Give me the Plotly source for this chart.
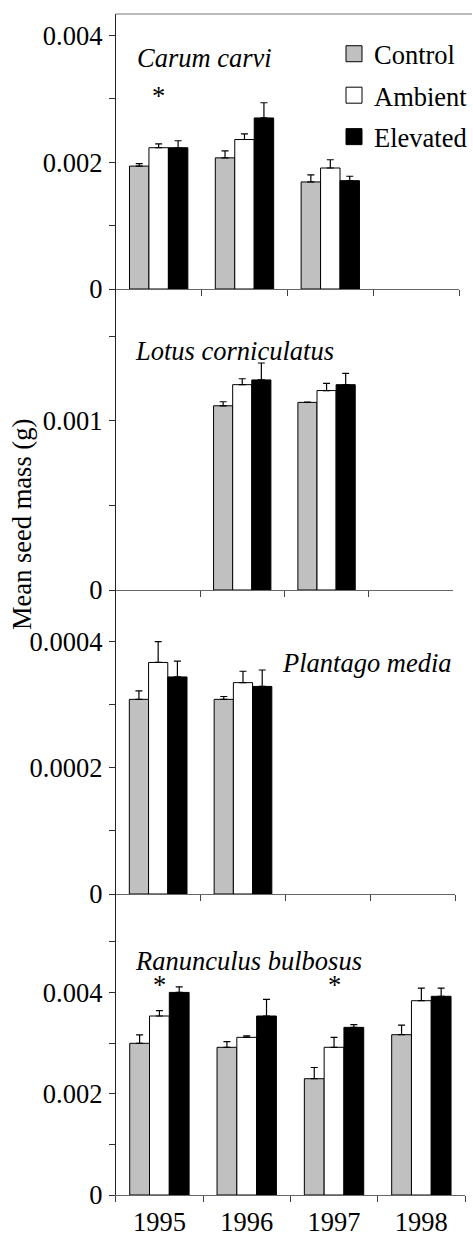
import plotly.graph_objects as go

# ---------------- data ----------------
years = ["1995", "1996", "1997", "1998"]
treatments = ["Control", "Ambient", "Elevated"]
treatment_colors = ["#c0c0c0", "#ffffff", "#000000"]

carum_control = [0.00194, 0.00207, 0.00169, None]
carum_control_se = [0.00004, 0.00011, 0.00011, None]
carum_ambient = [0.00223, 0.00236, 0.00191, None]
carum_ambient_se = [0.00006, 0.00009, 0.00013, None]
carum_elevated = [0.00223, 0.00270, 0.00171, None]
carum_elevated_se = [0.00011, 0.00024, 0.00007, None]

lotus_control = [None, 0.00109, 0.00111, None]
lotus_control_se = [None, 0.000024, 0.000002, None]
lotus_ambient = [None, 0.001215, 0.00118, None]
lotus_ambient_se = [None, 0.000035, 0.000043, None]
lotus_elevated = [None, 0.001243, 0.001215, None]
lotus_elevated_se = [None, 0.0001, 0.000067, None]

plantago_control = [0.0003085, 0.0003085, None, None]
plantago_control_se = [0.0000135, 0.0000045, None, None]
plantago_ambient = [0.000367, 0.000335, None, None]
plantago_ambient_se = [0.000033, 0.000018, None, None]
plantago_elevated = [0.000344, 0.000329, None, None]
plantago_elevated_se = [0.000025, 0.000026, None, None]

ranunculus_control = [0.002995, 0.002916, 0.002296, 0.003165]
ranunculus_control_se = [0.000165, 0.000111, 0.000221, 0.000191]
ranunculus_ambient = [0.003534, 0.003113, 0.002916, 0.003836]
ranunculus_ambient_se = [0.000106, 0.000027, 0.000197, 0.000247]
ranunculus_elevated = [0.004, 0.003534, 0.00331, 0.003923]
ranunculus_elevated_se = [0.00011, 0.00033, 0.000052, 0.00016]

species_names = ["Carum carvi", "Lotus corniculatus", "Plantago media", "Ranunculus bulbosus"]

panel_means = [
    [carum_control, carum_ambient, carum_elevated],
    [lotus_control, lotus_ambient, lotus_elevated],
    [plantago_control, plantago_ambient, plantago_elevated],
    [ranunculus_control, ranunculus_ambient, ranunculus_elevated],
]
panel_se = [
    [carum_control_se, carum_ambient_se, carum_elevated_se],
    [lotus_control_se, lotus_ambient_se, lotus_elevated_se],
    [plantago_control_se, plantago_ambient_se, plantago_elevated_se],
    [ranunculus_control_se, ranunculus_ambient_se, ranunculus_elevated_se],
]

# y tick labels per panel
carum_tickvals = [0, 0.002, 0.004]
carum_ticktext = ["0", "0.002", "0.004"]
lotus_tickvals = [0, 0.001]
lotus_ticktext = ["0", "0.001"]
plantago_tickvals = [0, 0.0002, 0.0004]
plantago_ticktext = ["0", "0.0002", "0.0004"]
ranunculus_tickvals = [0, 0.002, 0.004]
ranunculus_ticktext = ["0", "0.002", "0.004"]

panel_tickvals = [carum_tickvals, lotus_tickvals, plantago_tickvals, ranunculus_tickvals]
panel_ticktext = [carum_ticktext, lotus_ticktext, plantago_ticktext, ranunculus_ticktext]
panel_minor_dtick = [0.001, 0.0005, 0.0001, 0.001]
panel_ymax = [0.004341, 0.001781, 0.0004818, 0.005943]

# significance markers: (panel index, year, y value)
sig_panel = [0, 3, 3]
sig_year = ["1995", "1995", "1997"]
sig_y = [0.0031, 0.00421, 0.00421]

# ---------------- layout geometry ----------------
W, H = 473, 1235
FONT = "Liberation Serif"
FS = 26.5
left_px = 116
right_px = [460, 454, 456, 466]
panel_px = [(14, 289), (289, 590), (590, 894), (894, 1195)]

fig = go.Figure()

for p in range(4):
    xa = "x" if p == 0 else f"x{p+1}"
    ya = "y" if p == 0 else f"y{p+1}"
    for t in range(3):
        fig.add_trace(go.Bar(
            x=years,
            y=panel_means[p][t],
            name=treatments[t],
            marker=dict(color=treatment_colors[t], line=dict(color="#000000", width=1)),
            error_y=dict(type="data", symmetric=False, array=panel_se[p][t],
                         arrayminus=[0 if v is not None else None for v in panel_se[p][t]],
                         color="#000000", thickness=1.2, width=3.5),
            xaxis=xa, yaxis=ya, showlegend=False,
        ))

# legend entries
for t in range(3):
    fig.add_trace(go.Scatter(
        x=[None], y=[None], mode="markers", name=treatments[t],
        legendgroup=treatments[t],
        marker=dict(symbol="square", size=16, color=treatment_colors[t],
                    line=dict(color="#000000", width=1)),
        xaxis="x", yaxis="y", showlegend=True,
    ))

layout = dict(
    width=W, height=H,
    margin=dict(l=0, r=0, t=0, b=0),
    template="none",
    plot_bgcolor="white", paper_bgcolor="white",
    font=dict(family=FONT, size=FS, color="#000000"),
    barmode="group", bargap=0.32, bargroupgap=0,
    showlegend=True,
    legend=dict(x=(355 - 20) / W, y=1 - 30 / H, xanchor="left", yanchor="top",
                bgcolor="rgba(0,0,0,0)", borderwidth=0,
                font=dict(family=FONT, size=FS, color="#000000"),
                tracegroupgap=4),
)

for p in range(4):
    xk = "xaxis" if p == 0 else f"xaxis{p+1}"
    yk = "yaxis" if p == 0 else f"yaxis{p+1}"
    top, bot = panel_px[p]
    layout[xk] = dict(
        domain=[left_px / W, right_px[p] / W],
        anchor="y" if p == 0 else f"y{p+1}",
        type="category", categoryorder="array", categoryarray=years,
        range=[-0.5, 3.5],
        showline=True, linecolor="#666666", linewidth=1,
        ticks="outside", tickson="boundaries", ticklen=6, tickcolor="#444444", tickwidth=1,
        showgrid=False, zeroline=False,
        showticklabels=(p == 3), ticklabelstandoff=3,
        tickfont=dict(family=FONT, size=FS, color="#000000"),
        automargin=False, fixedrange=True,
    )
    layout[yk] = dict(
        domain=[1 - bot / H, 1 - top / H],
        anchor="x" if p == 0 else f"x{p+1}",
        range=[0, panel_ymax[p]],
        tickmode="array", tickvals=panel_tickvals[p], ticktext=panel_ticktext[p],
        showline=True, linecolor="#222222", linewidth=1,
        ticks="outside", ticklen=6, tickcolor="#333333", tickwidth=1,
        minor=dict(dtick=panel_minor_dtick[p], tick0=0, ticks="outside", ticklen=6,
                   tickcolor="#333333", tickwidth=1),
        showgrid=False, zeroline=False,
        tickfont=dict(family=FONT, size=FS, color="#000000"),
        ticklabelstandoff=1,
        automargin=False, fixedrange=True,
    )

fig.update_layout(**layout)

# top border line of first panel
fig.add_shape(type="line", xref="paper", yref="paper",
              x0=left_px / W, x1=1, y0=1 - 14 / H, y1=1 - 14 / H,
              line=dict(color="#777777", width=1))

# species labels
label_x = [135, 133, 455, 133]
label_y = [58, 351, 663, 961]
label_anchor = ["left", "left", "right", "left"]
for p in range(4):
    fig.add_annotation(text=f"<i>{species_names[p]}</i>", xref="paper", yref="paper",
                       x=label_x[p] / W, y=1 - label_y[p] / H,
                       xanchor=label_anchor[p], yanchor="middle", showarrow=False,
                       font=dict(family=FONT, size=FS, color="#000000"))

# significance asterisks
for i in range(len(sig_panel)):
    p = sig_panel[i]
    fig.add_annotation(text="*", xref="x" if p == 0 else f"x{p+1}",
                       yref="y" if p == 0 else f"y{p+1}",
                       x=years.index(sig_year[i]), y=sig_y[i],
                       xanchor="center", yanchor="middle",
                       yshift=-3, showarrow=False,
                       font=dict(family=FONT, size=FS, color="#000000"))

# y-axis title
fig.add_annotation(text="Mean seed mass (g)", xref="paper", yref="paper",
                   x=22 / W, y=1 - 524 / H, xanchor="center", yanchor="middle",
                   textangle=-90, showarrow=False,
                   font=dict(family=FONT, size=FS, color="#000000"))

fig.write_html("out.html", config={"displayModeBar": False},
               post_script="document.body.style.margin='0';document.body.style.overflow='hidden';")
